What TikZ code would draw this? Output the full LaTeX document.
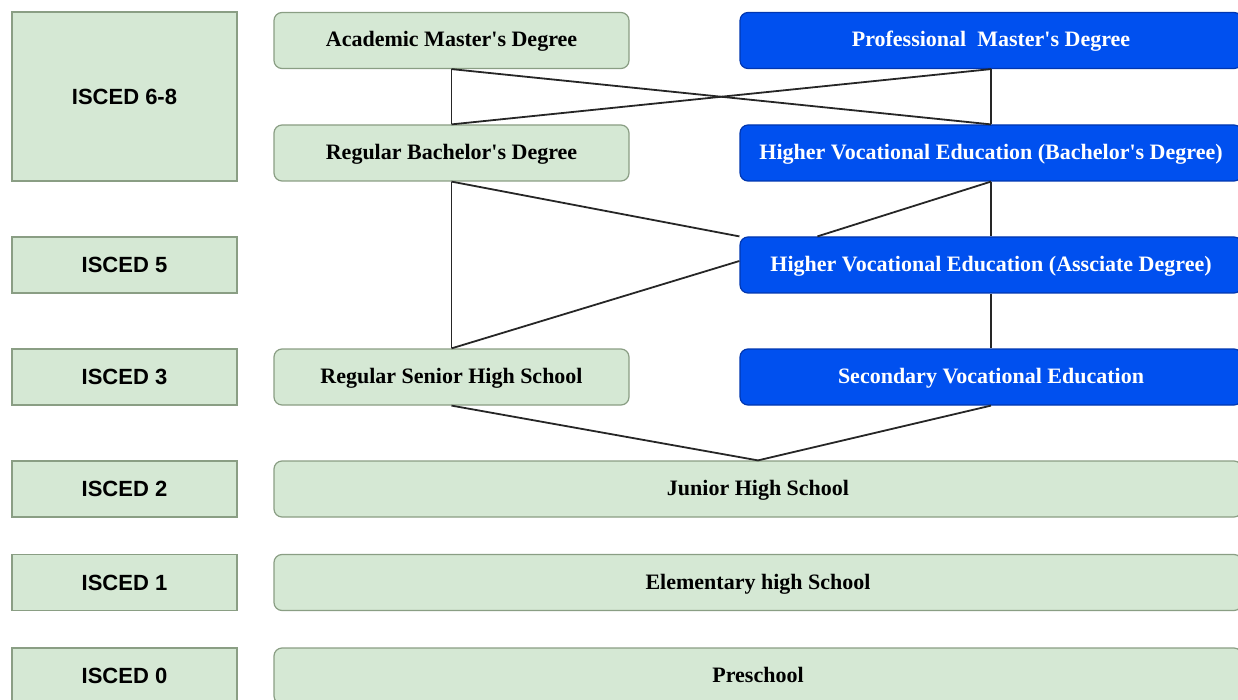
\documentclass[tikz,border=0pt]{standalone}
\usepackage{fontspec}
\setmainfont{Liberation Serif}
\setsansfont{Liberation Sans}
\usetikzlibrary{calc}
\definecolor{boxgreen}{HTML}{D5E8D4}
\definecolor{edgegreen}{HTML}{8A9E84}
\definecolor{vocblue}{HTML}{0050EF}
\definecolor{vocedge}{HTML}{0036B0}

\begin{document}
\begin{tikzpicture}[x=1pt,y=-1pt,
    level/.style={draw=edgegreen, fill=boxgreen, line width=1.2pt, inner sep=0pt,
        minimum width=225pt, minimum height=56pt,
        font=\sffamily\bfseries\fontsize{22}{26}\selectfont},
    general/.style={draw=edgegreen, fill=boxgreen, line width=1.2pt, rounded corners=8pt,
        inner sep=0pt, minimum width=355pt, minimum height=56pt,
        text height=16pt, text depth=3pt,
        font=\bfseries\fontsize{22}{26}\selectfont},
    vocational/.style={draw=vocedge, fill=vocblue, text=white, line width=1.2pt,
        rounded corners=8pt, inner sep=0pt, minimum width=502pt, minimum height=56pt,
        text height=16pt, text depth=3pt,
        font=\bfseries\fontsize{22}{26}\selectfont},
    common/.style={general, minimum width=968pt},
    link/.style={line width=1.8pt, black!85}]
    \useasboundingbox (0,0) rectangle (1238,700);
    % ISCED levels
    \node[level, minimum height=169pt] (isced68) at (124.5,96.5) {ISCED 6-8};
    \node[level] (isced5) at (124.5,265) {ISCED 5};
    \node[level] (isced3) at (124.5,377) {ISCED 3};
    \node[level] (isced2) at (124.5,489) {ISCED 2};
    \node[level] (isced1) at (124.5,582.5) {ISCED 1};
    \node[level] (isced0) at (124.5,676) {ISCED 0};
    % general track
    \node[general] (acadMaster) at (451.5,40.5) {Academic Master\textquotesingle s Degree};
    \node[general] (regBachelor) at (451.5,153) {Regular Bachelor\textquotesingle s Degree};
    \node[general] (seniorHigh) at (451.5,377) {Regular Senior High School};
    % vocational track
    \node[vocational] (profMaster) at (991,40.5) {Professional\ \ Master\textquotesingle s Degree};
    \node[vocational] (hveBachelor) at (991,153) {Higher Vocational Education (Bachelor\textquotesingle s Degree)};
    \node[vocational] (hveAssociate) at (991,265) {Higher Vocational Education (Assciate Degree)};
    \node[vocational] (secVocational) at (991,377) {Secondary Vocational Education};
    % compulsory and preschool
    \node[common] (juniorHigh) at (758,489) {Junior High School};
    \node[common] (elementary) at (758,582.5) {Elementary high School};
    \node[common] (preschool) at (758,676) {Preschool};

    \draw[link] (acadMaster.south) -- (regBachelor.north);
    \draw[link] (acadMaster.south) -- (hveBachelor.north);
    \draw[link] (profMaster.south) -- (regBachelor.north);
    \draw[link] (profMaster.south) -- (hveBachelor.north);
    \draw[link] (regBachelor.south) -- (hveAssociate.north west);
    \draw[link] (hveBachelor.south) -- ($(hveAssociate.north west)!0.155!(hveAssociate.north east)$);
    \draw[link] (hveBachelor.south) -- (hveAssociate.north);
    \draw[link] (regBachelor.south) -- (seniorHigh.north);
    \draw[link] (seniorHigh.north) -- ([yshift=4pt]hveAssociate.west);
    \draw[link] (hveAssociate.south) -- (secVocational.north);
    \draw[link] (seniorHigh.south) -- (juniorHigh.north);
    \draw[link] (secVocational.south) -- (juniorHigh.north);
\end{tikzpicture}
\end{document}
